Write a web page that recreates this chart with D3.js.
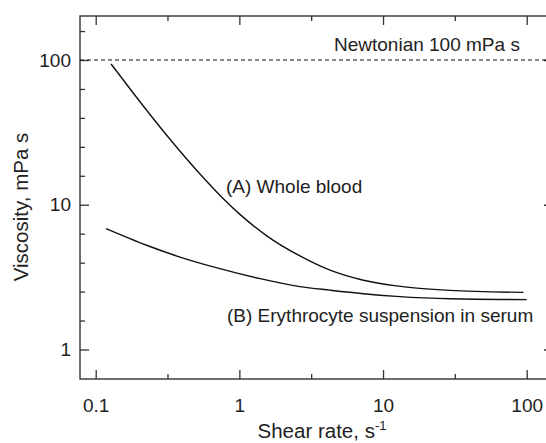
<!DOCTYPE html>
<html>
<head>
<meta charset="utf-8">
<script src="https://cdn.jsdelivr.net/npm/d3@7"></script>
<style>
  html, body { margin: 0; padding: 0; background: #fff; }
  svg { display: block; }
  text { font-family: "Liberation Sans", Arial, Helvetica, sans-serif; fill: #222; }
</style>
</head>
<body>
<svg id="chart" width="546" height="443"></svg>
<script>
// ---- data ----
const wholeBloodShear = [0.128, 0.183, 0.312, 0.532, 0.773, 1.0, 1.55, 2.64, 4.28, 7.29, 12.4, 29.2, 95];
const wholeBloodVisc  = [93.8, 58.9, 30.2, 16.3, 11.0, 8.65, 6.10, 4.43, 3.53, 3.01, 2.75, 2.56, 2.48];
const suspensionShear = [0.118, 0.226, 0.386, 0.659, 1.39, 2.64, 4.28, 7.29, 12.4, 29.2, 100];
const suspensionVisc  = [6.84, 5.25, 4.35, 3.72, 3.09, 2.72, 2.57, 2.43, 2.33, 2.24, 2.21];
const newtonianVisc = 100;
const xMajorTicks = [0.1, 1, 10, 100];
const xMajorLabels = ["0.1", "1", "10", "100"];
const xMinorTicks = [0.316, 3.16, 31.6];
const yMajorTicks = [1, 10, 100];
const yMajorLabels = ["1", "10", "100"];
const yMinorTicks = [1.585, 2.512, 3.981, 6.31, 15.85, 25.12, 39.81, 63.1, 158.5];
const labels = {
  newtonian: "Newtonian 100 mPa s",
  a: "(A) Whole blood",
  b: "(B) Erythrocyte suspension in serum",
  xTitle: "Shear rate, s",
  xTitleSup: "-1",
  yTitle: "Viscosity, mPa s"
};

// ---- layout ----
const frame = { left: 80, right: 553, top: 16, bottom: 379 };
const svg = d3.select("#chart");

const x = d3.scaleLog().domain([0.1, 100]).range([95.7, 526.7]);
const y = d3.scaleLog().domain([1, 100]).range([349.5, 60]);

const axisColor = "#333";

function drawXAxis(yPos, dir, withLabels) {
  const gMaj = svg.append("g").attr("transform", `translate(0,${yPos})`)
    .call((dir > 0 ? d3.axisBottom(x) : d3.axisTop(x))
      .tickValues(xMajorTicks).tickSize(-9).tickPadding(withLabels ? 20 : 0)
      .tickFormat((d, i) => withLabels ? xMajorLabels[i] : ""));
  const gMin = svg.append("g").attr("transform", `translate(0,${yPos})`)
    .call((dir > 0 ? d3.axisBottom(x) : d3.axisTop(x))
      .tickValues(xMinorTicks).tickSize(-5).tickFormat(""));
  [gMaj, gMin].forEach(g => {
    g.select(".domain").remove();
    g.selectAll("line").attr("stroke", axisColor).attr("stroke-width", 1.3);
  });
  gMaj.selectAll("text").attr("font-size", 19).attr("fill", "#222")
    .style("font-family", '"Liberation Sans", Arial, sans-serif');
}
drawXAxis(frame.bottom, 1, true);
drawXAxis(frame.top, -1, false);

function drawYAxis(xPos, left, withLabels) {
  const gMaj = svg.append("g").attr("transform", `translate(${xPos},0)`)
    .call((left ? d3.axisLeft(y) : d3.axisRight(y))
      .tickValues(yMajorTicks).tickSize(-9).tickPadding(withLabels ? 9 : 0)
      .tickFormat((d, i) => withLabels ? yMajorLabels[i] : ""));
  const gMin = svg.append("g").attr("transform", `translate(${xPos},0)`)
    .call((left ? d3.axisLeft(y) : d3.axisRight(y))
      .tickValues(yMinorTicks).tickSize(-5).tickFormat(""));
  [gMaj, gMin].forEach(g => {
    g.select(".domain").remove();
    g.selectAll("line").attr("stroke", axisColor).attr("stroke-width", 1.3);
  });
  gMaj.selectAll("text").attr("font-size", 19).attr("fill", "#222")
    .style("font-family", '"Liberation Sans", Arial, sans-serif');
}
drawYAxis(frame.left, true, true);
drawYAxis(frame.right, false, false);

// frame
svg.append("rect")
  .attr("x", frame.left).attr("y", frame.top)
  .attr("width", frame.right - frame.left).attr("height", frame.bottom - frame.top)
  .attr("fill", "none").attr("stroke", axisColor).attr("stroke-width", 1.4);

// Newtonian dashed line
svg.append("line")
  .attr("x1", frame.left).attr("x2", frame.right)
  .attr("y1", y(newtonianVisc)).attr("y2", y(newtonianVisc))
  .attr("stroke", "#111").attr("stroke-width", 1.2)
  .attr("stroke-dasharray", "4,3");

// curves
const line = d3.line().x(d => x(d[0])).y(d => y(d[1])).curve(d3.curveMonotoneX);
const seriesA = d3.zip(wholeBloodShear, wholeBloodVisc);
const seriesB = d3.zip(suspensionShear, suspensionVisc);
[seriesA, seriesB].forEach(s => {
  svg.append("path").datum(s).attr("d", line)
    .attr("fill", "none").attr("stroke", "#111").attr("stroke-width", 1.4);
});

// annotations
svg.append("text").attr("x", 334).attr("y", 51).attr("font-size", 19).text(labels.newtonian);
svg.append("text").attr("x", 226).attr("y", 193).attr("font-size", 19).text(labels.a);
svg.append("text").attr("x", 227).attr("y", 322).attr("font-size", 19).text(labels.b);

// axis titles
const xt = svg.append("text").attr("x", 322).attr("y", 438).attr("text-anchor", "middle").attr("font-size", 20.5);
xt.append("tspan").text(labels.xTitle);
xt.append("tspan").attr("dy", -8).attr("font-size", 13).text(labels.xTitleSup);

svg.append("text")
  .attr("transform", `translate(28,207) rotate(-90)`)
  .attr("text-anchor", "middle").attr("font-size", 20.5)
  .text(labels.yTitle);
</script>
</body>
</html>
